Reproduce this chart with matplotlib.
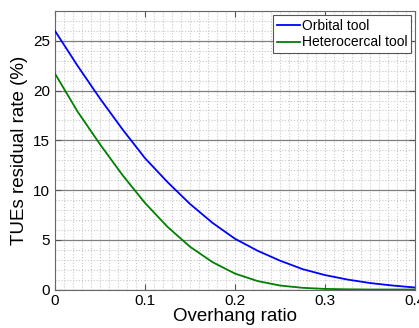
import matplotlib
matplotlib.use("Agg")
import matplotlib.pyplot as plt
from matplotlib.ticker import MultipleLocator

plt.rcParams['font.family'] = ['Liberation Sans', 'DejaVu Sans']

overhang = [0.0, 0.025, 0.05, 0.075, 0.1, 0.125, 0.15, 0.175, 0.2, 0.225,
            0.25, 0.275, 0.3, 0.325, 0.35, 0.375, 0.4]
orbital = [26.0, 22.5, 19.2, 16.1, 13.2, 10.8, 8.6, 6.7, 5.1, 3.9,
           2.9, 2.05, 1.45, 1.0, 0.65, 0.4, 0.2]
heterocercal = [21.7, 17.9, 14.6, 11.5, 8.7, 6.3, 4.3, 2.75, 1.6, 0.85,
                0.4, 0.17, 0.06, 0.02, 0.0, 0.0, 0.0]

fig = plt.figure(figsize=(4.19, 3.28), dpi=100)
ax = fig.add_axes([55/419, 1-289.5/328, 360/419, (289.5-11)/328])

ax.plot(overhang, orbital, color='#0000ff', lw=1.3, label='Orbital tool', zorder=3)
ax.plot(overhang, heterocercal, color='#008000', lw=1.3, label='Heterocercal tool', zorder=3)

ax.set_xlim(0, 0.4)
ax.set_ylim(0, 28)
ax.xaxis.set_major_locator(MultipleLocator(0.1))
ax.xaxis.set_minor_locator(MultipleLocator(0.01))
ax.yaxis.set_major_locator(MultipleLocator(5))
ax.yaxis.set_minor_locator(MultipleLocator(1))
ax.xaxis.set_major_formatter(plt.FuncFormatter(lambda v, p: f"{v:g}"))

ax.grid(which='minor', axis='both', color='#c8c8c8', linestyle=':', lw=0.8)
ax.grid(which='major', axis='x', color='#c8c8c8', linestyle=':', lw=0.8)
ax.grid(which='major', axis='y', color='#808080', linestyle='-', lw=0.9)
ax.set_axisbelow(True)

ax.tick_params(which='both', direction='in', top=True, right=True, labelsize=11,
               color='#555555')
ax.tick_params(which='major', length=4)
ax.tick_params(which='minor', length=0)
for s in ax.spines.values():
    s.set_color('#666666')
    s.set_linewidth(0.8)

ax.set_xlabel('Overhang ratio', fontsize=13.5, labelpad=0)
ax.set_ylabel('TUEs residual rate (%)', fontsize=13.5, labelpad=4)

leg = ax.legend(loc='upper right', fontsize=10, handlelength=1.65, handletextpad=0.15,
                borderpad=0.25, labelspacing=0.2, fancybox=False, framealpha=1,
                borderaxespad=0.3)
leg.get_frame().set_edgecolor('#555555')
leg.get_frame().set_linewidth(0.8)

fig.savefig('out.png', dpi=100)
